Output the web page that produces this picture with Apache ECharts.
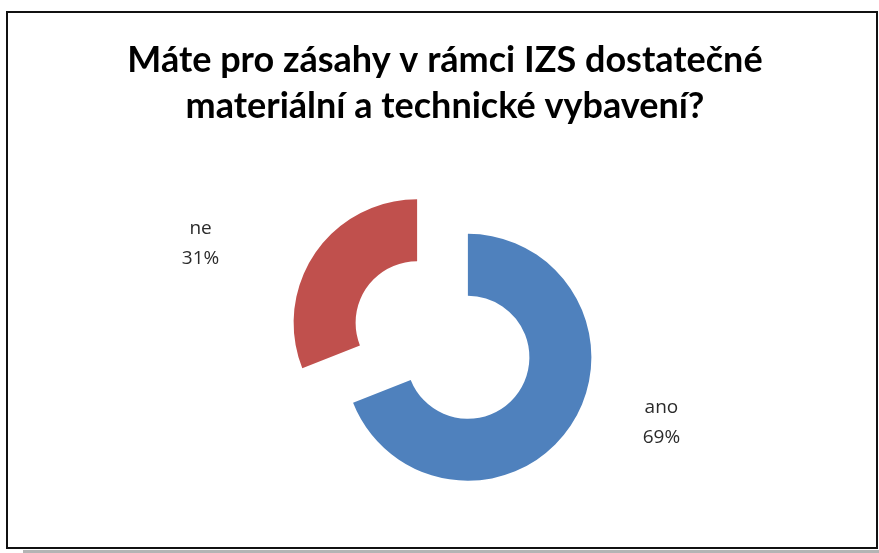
<!DOCTYPE html>
<html>
<head>
<meta charset="utf-8">
<script src="https://cdn.jsdelivr.net/npm/echarts@6/dist/echarts.min.js"></script>
<style>
    html, body { margin: 0; padding: 0; background: #fff; }
    #chart { width: 879px; height: 553px; }
</style>
</head>
<body>
<div id="chart"></div>
<script>
// data
var categories = ['ano', 'ne'];
var values = [69, 31];
var colors = ['#4F81BD', '#C0504D'];
var titleText = 'Máte pro zásahy v rámci IZS dostatečné\nmateriální a technické vybavení?';

// label nudges (px) so the labels sit where Excel put them
var labelShift = [[74, -13], [-97, -1]];

var myChart = echarts.init(document.getElementById('chart'));

var pieData = [];
for (var i = 0; i < categories.length; i++) {
    pieData.push({
        name: categories[i],
        value: values[i],
        selected: true,
        itemStyle: { color: colors[i] }
    });
}

var option = {
    animation: false,
    backgroundColor: '#fff',
    title: {
        text: titleText,
        left: 440,
        top: 32,
        textAlign: 'center',
        textStyle: {
            fontFamily: 'Lato',
            fontWeight: 'bold',
            fontSize: 36,
            lineHeight: 46,
            color: '#000'
        }
    },
    graphic: [
        {
            type: 'rect',
            shape: { x: 23, y: 550, width: 856, height: 3 },
            style: { fill: '#b4b4b4' },
            silent: true
        },
        {
            type: 'rect',
            shape: { x: 7, y: 12, width: 870, height: 536 },
            style: { fill: null, stroke: '#111', lineWidth: 2 },
            silent: true
        }
    ],
    series: [{
        type: 'pie',
        center: [442.5, 340],
        radius: [61.5, 123.5],
        startAngle: 90,
        clockwise: true,
        selectedMode: 'multiple',
        selectedOffset: 30.7,
        avoidLabelOverlap: false,
        label: {
            show: true,
            position: 'outside',
            formatter: '{b}\n{d}%',
            fontFamily: 'Open Sans',
            fontSize: 19,
            lineHeight: 30,
            color: '#2b2b2b',
            align: 'center'
        },
        labelLine: { show: false, length: 15, length2: 0 },
        labelLayout: function (params) {
            var s = labelShift[params.dataIndex];
            return { dx: s[0], dy: s[1], align: 'center', verticalAlign: 'middle' };
        },
        emphasis: { disabled: true },
        data: pieData
    }]
};

myChart.setOption(option);
</script>
</body>
</html>
